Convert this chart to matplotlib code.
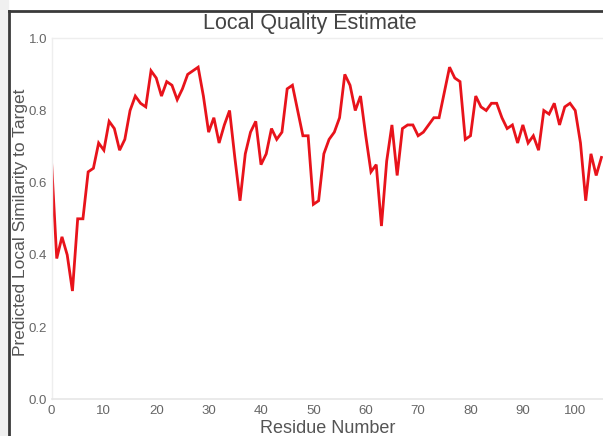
import matplotlib.pyplot as plt
import numpy as np

plt.rcParams['font.family'] = ['Liberation Sans', 'DejaVu Sans']

# Per-residue local similarity scores
residue = np.arange(0, 106)
score = [
    0.66, 0.39, 0.45, 0.40, 0.30, 0.50, 0.50, 0.63, 0.64, 0.71,
    0.69, 0.77, 0.75, 0.69, 0.72, 0.80, 0.84, 0.82, 0.81, 0.91,
    0.89, 0.84, 0.88, 0.87, 0.83, 0.86, 0.90, 0.91, 0.92, 0.84,
    0.74, 0.78, 0.71, 0.76, 0.80, 0.67, 0.55, 0.68, 0.74, 0.77,
    0.65, 0.68, 0.75, 0.72, 0.74, 0.86, 0.87, 0.80, 0.73, 0.73,
    0.54, 0.55, 0.68, 0.72, 0.74, 0.78, 0.90, 0.87, 0.80, 0.84,
    0.73, 0.63, 0.65, 0.48, 0.66, 0.76, 0.62, 0.75, 0.76, 0.76,
    0.73, 0.74, 0.76, 0.78, 0.78, 0.85, 0.92, 0.89, 0.88, 0.72,
    0.73, 0.84, 0.81, 0.80, 0.82, 0.82, 0.78, 0.75, 0.76, 0.71,
    0.76, 0.71, 0.73, 0.69, 0.80, 0.79, 0.82, 0.76, 0.81, 0.82,
    0.80, 0.71, 0.55, 0.68, 0.62, 0.67,
]
x_ticks = np.arange(0, 101, 10)
y_ticks = [0.0, 0.2, 0.4, 0.6, 0.8, 1.0]

text_col = '#555555'

fig = plt.figure(figsize=(6.03, 4.36), dpi=100)
ax = fig.add_axes([51.5 / 603, 36.7 / 436, 1 - 51.5 / 603, (399.3 - 38.3) / 436])

ax.plot(residue, score, color='#e8131b', linewidth=2.0, solid_joinstyle='miter')

ax.set_xlim(0, 105.3)
ax.set_ylim(0, 1.0)
ax.set_xticks(x_ticks)
ax.set_yticks(y_ticks)
ax.set_yticklabels([f'{v:.1f}' for v in y_ticks])
ax.tick_params(length=0, labelsize=9.5, colors='#666666')
ax.tick_params(axis='x', pad=4)
ax.tick_params(axis='y', pad=3)

for side in ['top', 'right']:
    ax.spines[side].set_visible(False)
ax.spines['left'].set_color('#eeeeee')
ax.spines['bottom'].set_color('#e6e6e6')
ax.spines['left'].set_linewidth(1.0)
ax.spines['bottom'].set_linewidth(1.2)
ax.axhline(1.0, color='#eeeeee', linewidth=1.0, clip_on=False)

ax.set_xlabel('Residue Number', fontsize=13, color=text_col, labelpad=2)
ax.set_ylabel('Predicted Local Similarity to Target', fontsize=12.5,
              color=text_col, va='center')
ax.yaxis.set_label_coords(-0.056, 0.49)
fig.text(310 / 603, 1 - 29 / 436, 'Local Quality Estimate', ha='center', va='baseline',
         fontsize=15.5, color='#444444')

# window frame around the plot
fig.patches.append(plt.Rectangle((0, 0), 8 / 603, 1, transform=fig.transFigure,
                                 color='#f0f0f0', zorder=0))
fig.lines.append(plt.Line2D([9 / 603, 9 / 603], [0, 1 - 11 / 436],
                            transform=fig.transFigure, color='#3a3a3a', linewidth=2))
fig.lines.append(plt.Line2D([9 / 603, 1], [1 - 11 / 436, 1 - 11 / 436],
                            transform=fig.transFigure, color='#3a3a3a', linewidth=2))

fig.savefig('out.png', dpi=100)
